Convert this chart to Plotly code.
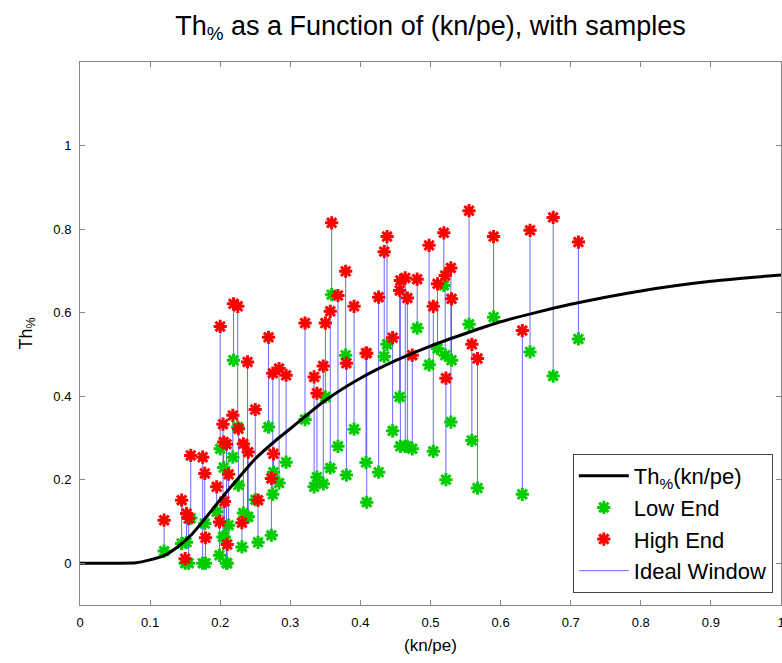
import plotly.graph_objects as go

# Ideal curve Th%(kn/pe)
curve_x = [0.0, 0.05, 0.08, 0.1, 0.12, 0.14, 0.16, 0.18, 0.2, 0.22, 0.25, 0.28, 0.3,
           0.35, 0.4, 0.45, 0.5, 0.55, 0.6, 0.65, 0.7, 0.8, 0.9, 1.0]
curve_y = [0.0, 0.0, 0.001, 0.008, 0.018, 0.04, 0.07, 0.11, 0.152, 0.192, 0.25, 0.295, 0.322,
           0.39, 0.443, 0.485, 0.52, 0.55, 0.578, 0.6, 0.62, 0.652, 0.675, 0.69]

# Samples: x position, low end, high end
sample_x = [0.120, 0.145, 0.150, 0.152, 0.155, 0.158, 0.175, 0.178, 0.179, 0.195,
            0.199, 0.200, 0.204, 0.205, 0.206, 0.209, 0.210, 0.212, 0.218, 0.219,
            0.225, 0.226, 0.231, 0.233, 0.239, 0.240, 0.250, 0.254, 0.269, 0.273,
            0.275, 0.276, 0.284, 0.294, 0.321, 0.334, 0.338, 0.347, 0.350, 0.357,
            0.359, 0.368, 0.379, 0.380, 0.391, 0.408, 0.409, 0.426, 0.434, 0.438,
            0.446, 0.456, 0.457, 0.464, 0.467, 0.474, 0.481, 0.498, 0.504, 0.510,
            0.519, 0.521, 0.522, 0.529, 0.530, 0.555, 0.559, 0.567, 0.590, 0.631,
            0.642, 0.675, 0.711]
low_end = [0.029, 0.047, 0.000, 0.050, 0.000, 0.108, 0.000, 0.095, 0.000, 0.123,
           0.019, 0.274, 0.063, 0.229, 0.063, 0.000, 0.000, 0.091, 0.254, 0.486,
           0.326, 0.187, 0.039, 0.120, 0.111, 0.111, 0.152, 0.050, 0.326, 0.067,
           0.165, 0.218, 0.192, 0.242, 0.344, 0.183, 0.206, 0.190, 0.398, 0.228,
           0.643, 0.280, 0.498, 0.211, 0.321, 0.241, 0.146, 0.218, 0.495, 0.524,
           0.317, 0.398, 0.280, 0.280, 0.280, 0.274, 0.563, 0.475, 0.268, 0.514,
           0.665, 0.498, 0.200, 0.338, 0.486, 0.572, 0.294, 0.180, 0.589, 0.165,
           0.506, 0.448, 0.537]
high_end = [0.103, 0.151, 0.011, 0.119, 0.107, 0.258, 0.254, 0.215, 0.061, 0.183,
            0.099, 0.567, 0.333, 0.290, 0.148, 0.285, 0.045, 0.213, 0.354, 0.621,
            0.615, 0.322, 0.097, 0.286, 0.482, 0.266, 0.368, 0.151, 0.541, 0.203,
            0.455, 0.262, 0.466, 0.450, 0.575, 0.446, 0.407, 0.472, 0.575, 0.603,
            0.815, 0.641, 0.699, 0.479, 0.615, 0.503, 0.503, 0.637, 0.746, 0.782,
            0.540, 0.653, 0.677, 0.683, 0.635, 0.498, 0.680, 0.761, 0.615, 0.669,
            0.791, 0.689, 0.443, 0.707, 0.633, 0.844, 0.524, 0.490, 0.782, 0.557,
            0.797, 0.828, 0.769]

x_ticks = [0, 0.1, 0.2, 0.3, 0.4, 0.5, 0.6, 0.7, 0.8, 0.9, 1]
x_tick_text = ["0", "0.1", "0.2", "0.3", "0.4", "0.5", "0.6", "0.7", "0.8", "0.9", "1"]
y_ticks = [0, 0.2, 0.4, 0.6, 0.8, 1]
y_tick_text = ["0", "0.2", "0.4", "0.6", "0.8", "1"]

# Build window segments
win_x, win_y = [], []
for xv, lo, hi in zip(sample_x, low_end, high_end):
    win_x += [xv, xv, None]
    win_y += [lo, hi, None]

FONT = "Liberation Sans, Arial, sans-serif"
green = "#00cc00"
red = "#ff0000"

fig = go.Figure()
fig.add_trace(go.Scatter(x=win_x, y=win_y, mode="lines", name="Ideal Window",
                         line=dict(color="rgba(40,40,255,0.7)", width=1),
                         legendrank=4, hoverinfo="skip"))
fig.add_trace(go.Scatter(x=sample_x, y=low_end, mode="markers", name="Low End",
                         marker=dict(symbol="asterisk-open", size=11, color=green,
                                     line=dict(color=green, width=3)),
                         legendrank=2))
fig.add_trace(go.Scatter(x=sample_x, y=high_end, mode="markers", name="High End",
                         marker=dict(symbol="asterisk-open", size=11, color=red,
                                     line=dict(color=red, width=3)),
                         legendrank=3))
fig.add_trace(go.Scatter(x=curve_x, y=curve_y, mode="lines", name="Th<sub>%</sub>(kn/pe)",
                         line=dict(color="black", width=3, shape="spline", smoothing=0.6),
                         legendrank=1))

axis_common = dict(showline=True, linecolor="#888888", linewidth=1, mirror="ticks",
                   ticks="inside", ticklen=5, tickcolor="#888888", showgrid=False,
                   zeroline=False, tickfont=dict(family=FONT, size=13, color="black"))

fig.update_layout(
    width=782, height=663,
    margin=dict(l=80, r=1, t=62, b=58, autoexpand=False),
    paper_bgcolor="white", plot_bgcolor="white",
    font=dict(family=FONT, color="black"),
    title=dict(text="Th<sub>%</sub> as a Function of (kn/pe), with samples",
               xref="paper", x=0.5, xanchor="center", y=0.962, yanchor="middle",
               font=dict(family=FONT, size=27, color="black")),
    xaxis=dict(range=[0, 1], tickvals=x_ticks, ticktext=x_tick_text,
               ticklabelstandoff=5, ticklabeloverflow="allow",
               title=dict(text="(kn/pe)", font=dict(family=FONT, size=17), standoff=10),
               **axis_common),
    yaxis=dict(range=[-0.1, 1.2], tickvals=y_ticks, ticktext=y_tick_text,
               title=dict(text="Th<sub>%</sub>", font=dict(family=FONT, size=18), standoff=16),
               ticklabelstandoff=5,
               **axis_common),
    legend=dict(x=0.703, y=0.278, xanchor="left", yanchor="top",
                bgcolor="white", bordercolor="#444444", borderwidth=1,
                font=dict(family=FONT, size=22, color="black"),
                itemwidth=50, tracegroupgap=0),
    showlegend=True,
)

fig.write_html("out.html")
